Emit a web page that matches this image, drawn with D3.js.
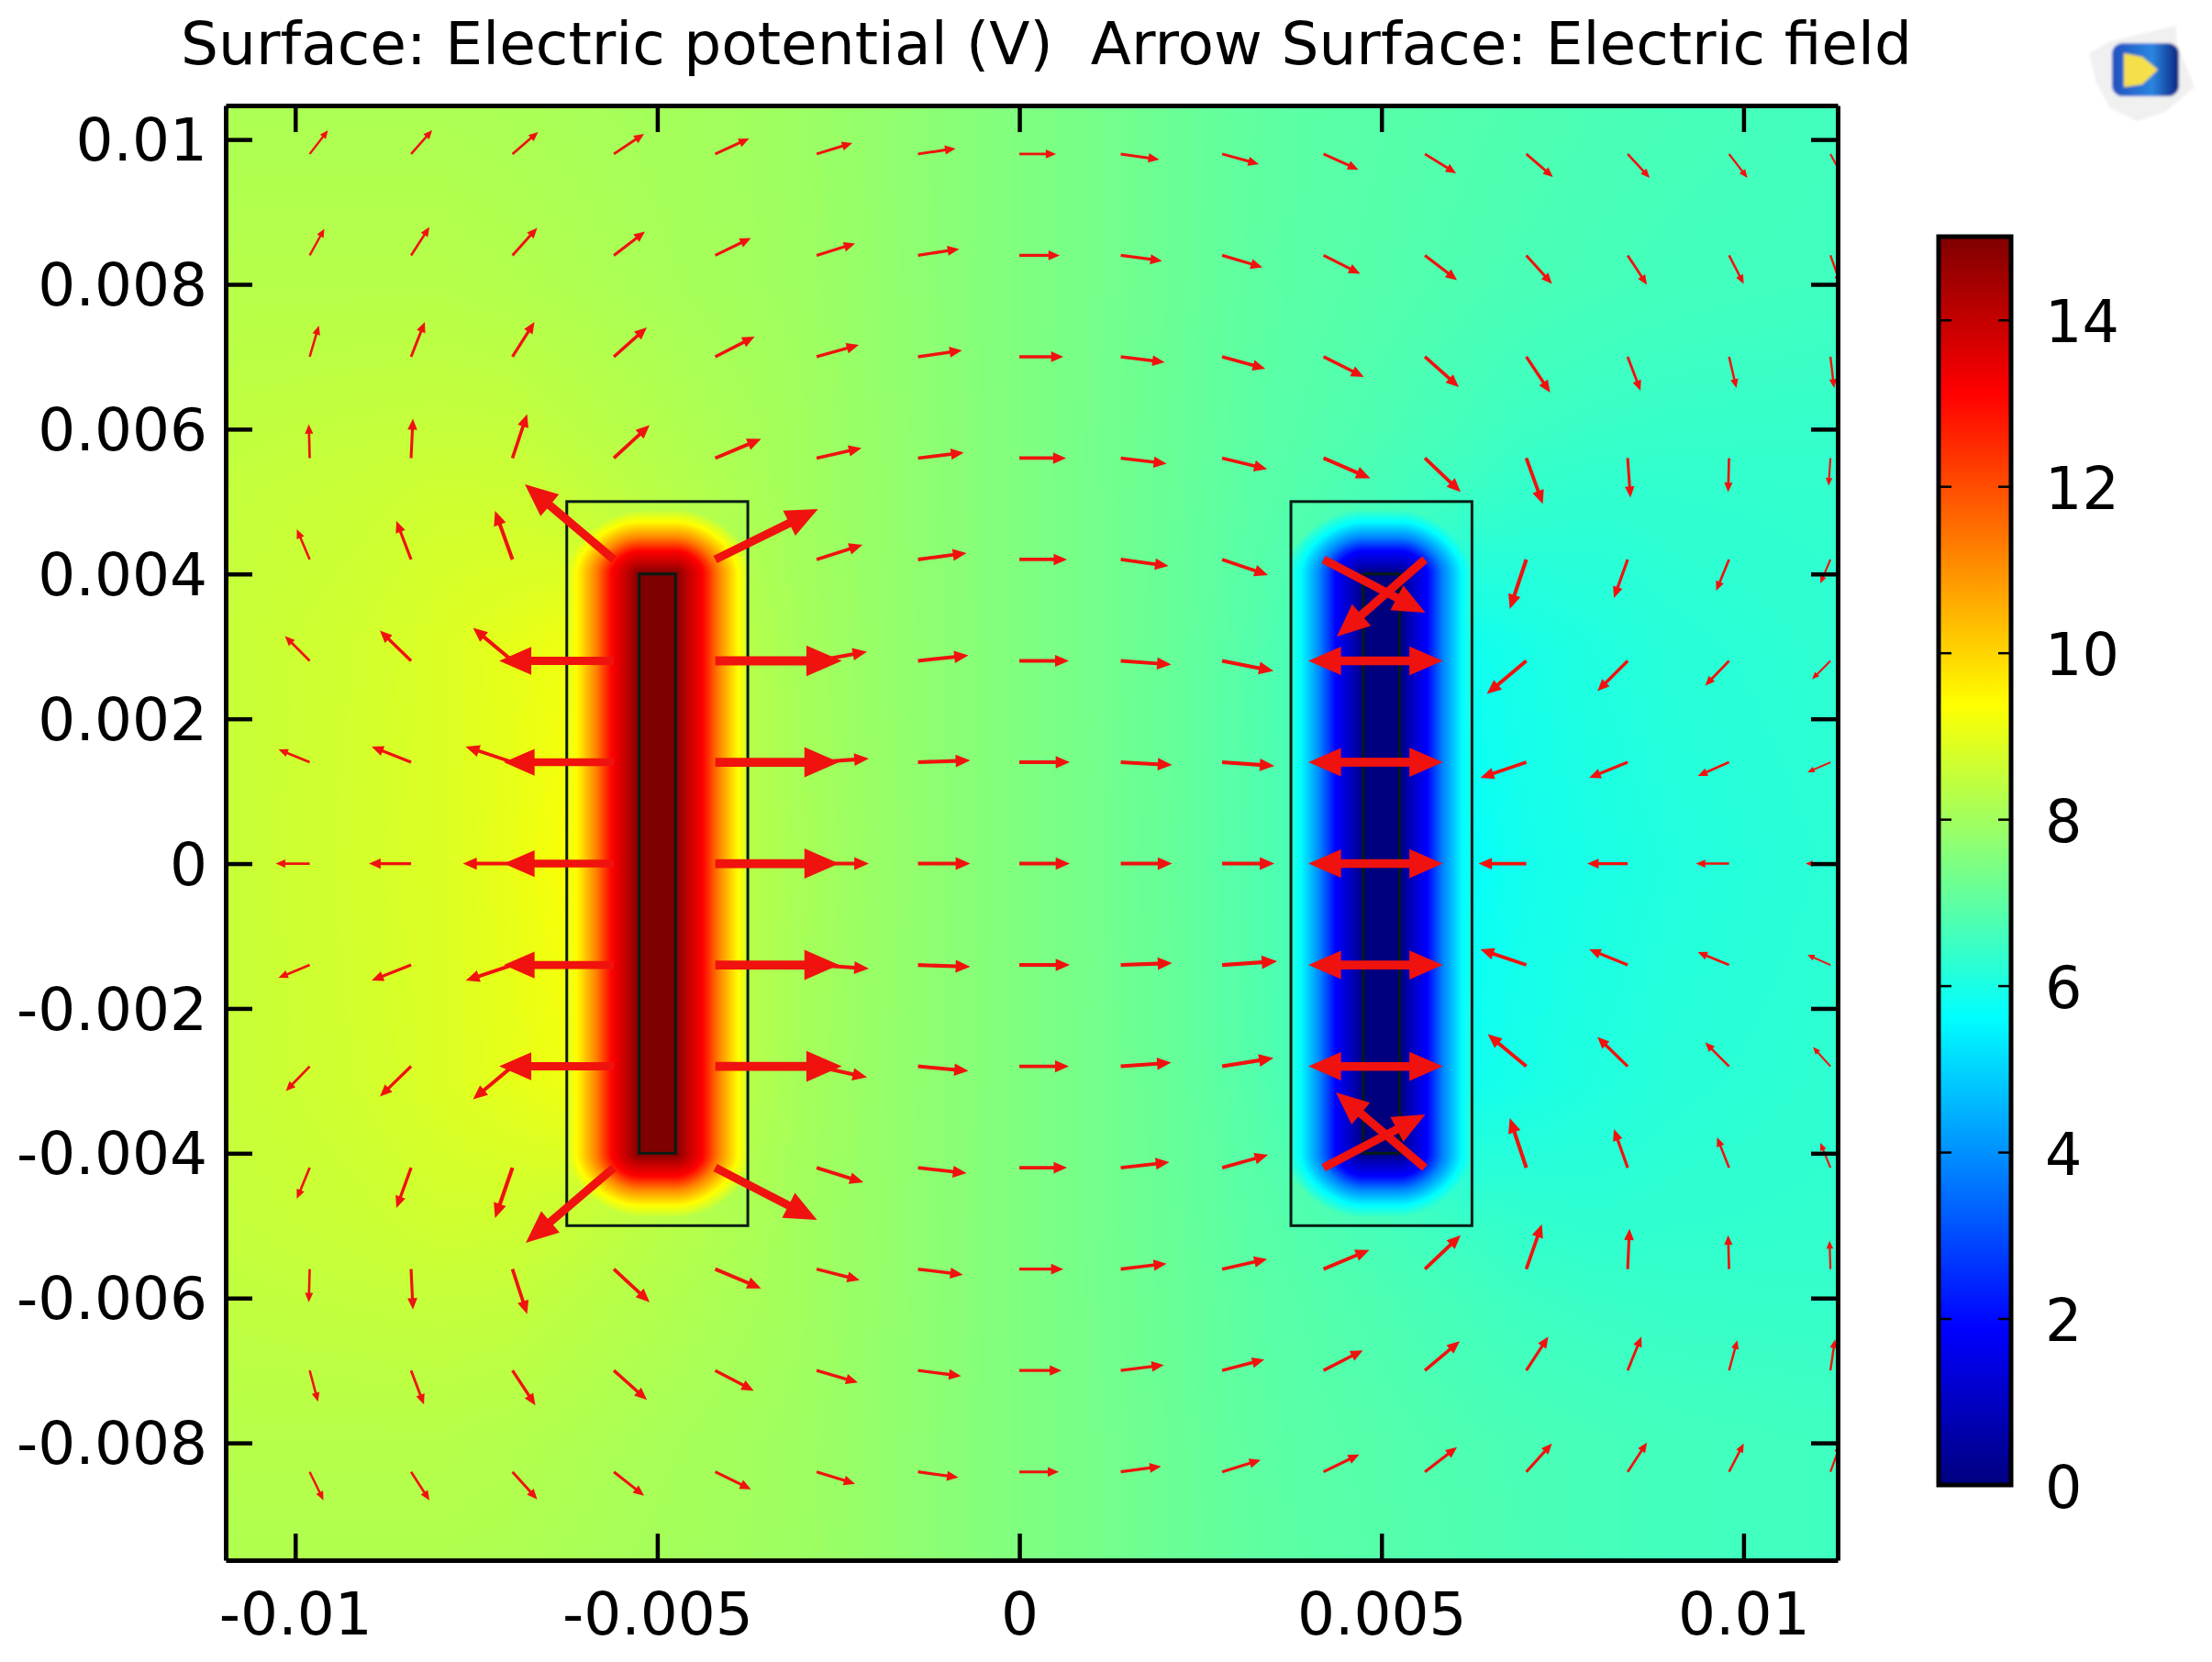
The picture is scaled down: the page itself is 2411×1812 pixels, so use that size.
<!DOCTYPE html>
<html>
<head>
<meta charset="utf-8">
<title>Electric potential</title>
<script src="https://cdn.jsdelivr.net/npm/d3@7"></script>
<style>
  body { margin: 0; background: #fff; }
  svg { display: block; }
  text { font-family: "DejaVu Sans", sans-serif; fill: #000; }
</style>
</head>
<body>
<svg id="chart" width="2411" height="1812"></svg>

<script>
const titleText = "Surface: Electric potential (V)  Arrow Surface: Electric field"
const xTicks = [-0.01, -0.005, 0, 0.005, 0.01]
const yTicks = [-0.008, -0.006, -0.004, -0.002, 0, 0.002, 0.004, 0.006, 0.008, 0.01]
const colorTicks = [0, 2, 4, 6, 8, 10, 12, 14]

// jet colour table of the colour bar
const jetValues = [0, 1.875, 5.625, 9.375, 13.125, 15]
const jetColors = ["#00007f", "#0000ff", "#00ffff", "#ffff00", "#ff0000", "#7f0000"]

// geometry, metres: [x0, x1, y0, y1]
const leftBox = [-0.00625, -0.00375, -0.005, 0.005]
const rightBox = [0.00375, 0.00625, -0.005, 0.005]
const leftElectrode = [-0.00525, -0.00475, -0.004, 0.004]
const rightElectrode = [0.00475, 0.00525, -0.004, 0.004]

// potential (V), outside the electrodes
const potentialX = [-0.011, -0.009, -0.008, -0.007, -0.00625, -0.00375, -0.003, -0.002, -0.001, 0, 0.001, 0.002, 0.003, 0.00375, 0.00625, 0.007, 0.008, 0.009, 0.0113]
const potentialY = [0.0105, 0.008, 0.006, 0.005, 0.003, 0, -0.003, -0.005, -0.006, -0.008, -0.0097]
const potentialRows = [
  [8.15, 8.15, 8.15, 8.12, 8.1, 7.98, 7.92, 7.78, 7.64, 7.5, 7.35, 7.2, 7.05, 6.98, 6.82, 6.78, 6.72, 6.68, 6.6],
  [8.3, 8.3, 8.3, 8.25, 8.2, 8.0, 7.95, 7.8, 7.65, 7.5, 7.35, 7.2, 7.03, 6.95, 6.75, 6.7, 6.65, 6.6, 6.55],
  [8.45, 8.5, 8.52, 8.5, 8.4, 8.1, 8.0, 7.82, 7.66, 7.5, 7.34, 7.18, 7.0, 6.9, 6.6, 6.5, 6.45, 6.42, 6.4],
  [8.5, 8.6, 8.68, 8.65, 8.55, 8.15, 8.0, 7.83, 7.66, 7.5, 7.33, 7.16, 6.98, 6.85, 6.45, 6.35, 6.3, 6.32, 6.35],
  [8.55, 8.72, 8.85, 9.0, 9.15, 8.3, 8.05, 7.85, 7.67, 7.5, 7.33, 7.15, 6.92, 6.7, 5.85, 5.98, 6.1, 6.2, 6.3],
  [8.55, 8.75, 8.85, 9.05, 9.3, 8.3, 8.1, 7.87, 7.68, 7.5, 7.32, 7.13, 6.9, 6.7, 5.7, 5.9, 6.0, 6.1, 6.25],
  [8.55, 8.72, 8.85, 9.0, 9.15, 8.3, 8.05, 7.85, 7.67, 7.5, 7.33, 7.15, 6.92, 6.7, 5.85, 5.98, 6.1, 6.2, 6.3],
  [8.5, 8.6, 8.68, 8.65, 8.55, 8.15, 8.0, 7.83, 7.66, 7.5, 7.33, 7.16, 6.98, 6.85, 6.45, 6.35, 6.3, 6.32, 6.35],
  [8.45, 8.5, 8.52, 8.5, 8.4, 8.1, 8.0, 7.82, 7.66, 7.5, 7.34, 7.18, 7.0, 6.9, 6.6, 6.5, 6.45, 6.42, 6.4],
  [8.3, 8.3, 8.3, 8.25, 8.2, 8.0, 7.95, 7.8, 7.65, 7.5, 7.35, 7.2, 7.03, 6.95, 6.75, 6.7, 6.65, 6.6, 6.55],
  [8.2, 8.2, 8.2, 8.18, 8.12, 7.98, 7.93, 7.8, 7.65, 7.5, 7.35, 7.2, 7.05, 6.97, 6.78, 6.72, 6.65, 6.6, 6.55]
]

// potential against distance from the electrode, read across the boxes
const wellDistance = [0, 0.00015, 0.00032, 0.0005, 0.00072, 0.00084, 0.001]
const leftWell = [15, 14, 13.1, 11.2, 9.4, 8.7, 7.5]
const rightWell = [0, 1, 1.9, 3.8, 5.6, 6.3, 7.5]

// arrow tails, metres
const arrowX = [-0.0098, -0.0084, -0.007, -0.0056, -0.0042, -0.0028, -0.0014, 0, 0.0014, 0.0028, 0.0042, 0.0056, 0.007, 0.0084, 0.0098, 0.0112]
const arrowY = [0.0098, 0.0084, 0.007, 0.0056, 0.0042, 0.0028, 0.0014, 0, -0.0014, -0.0028, -0.0042, -0.0056, -0.007, -0.0084]

// arrow components, arbitrary units, one row per arrowY
const fieldX = [
  [20, 23, 28, 33, 37, 39, 41, 40, 42, 40, 38, 34, 29, 24, 20, 14],
  [16, 20, 27, 34, 39, 42, 45, 44, 45, 44, 40, 35, 28, 21, 16, 11],
  [10, 15, 24, 36, 43, 46, 48, 48, 48, 47, 44, 37, 26, 14, 8, 4],
  [-1, 2, 16, 39, 50, 49, 50, 51, 50, 49, 51, 39, 18, 3, -1, -2],
  [-14, -16, -19, -97, 112, 50, 53, 52, 52, 50, 111, -96, -18, -15, -14, -11],
  [-27, -34, -43, -125, 138, 55, 55, 54, 55, 56, 130, -127, -43, -33, -26, -20],
  [-34, -43, -51, -120, 135, 57, 57, 55, 56, 57, 130, -127, -50, -42, -34, -25],
  [-37, -46, -54, -120, 135, 57, 57, 55, 56, 57, 130, -127, -52, -44, -36, -27],
  [-34, -43, -51, -120, 135, 57, 57, 55, 56, 60, 130, -127, -50, -42, -34, -25],
  [-26, -34, -43, -125, 138, 55, 55, 54, 55, 56, 130, -127, -42, -33, -26, -19],
  [-14, -16, -19, -96, 111, 51, 53, 52, 53, 50, 111, -97, -18, -15, -13, -11],
  [-1, 2, 16, 39, 50, 47, 49, 48, 50, 49, 50, 39, 17, 2, -1, -1],
  [9, 14, 25, 36, 42, 45, 47, 46, 47, 46, 43, 38, 24, 15, 9, 5],
  [15, 20, 27, 33, 39, 42, 44, 43, 44, 42, 39, 35, 28, 21, 16, 11]
]
const fieldY = [
  [26, 26, 24, 22, 17, 12, 6, 0, -6, -11, -17, -21, -25, -26, -26, -26],
  [29, 31, 30, 26, 19, 13, 7, 0, -6, -13, -20, -27, -31, -32, -31, -31],
  [34, 38, 38, 32, 22, 13, 7, 0, -6, -13, -22, -33, -39, -37, -34, -34],
  [37, 43, 48, 36, 21, 11, 6, 0, -6, -12, -22, -37, -50, -43, -37, -30],
  [33, 42, 53, 82, 55, 16, 7, 0, -7, -17, -58, -84, -54, -42, -34, -26],
  [27, 33, 36, 0, 0, 10, 6, 0, -4, -11, 0, 0, -36, -33, -27, -20],
  [14, 17, 17, 0, 0, 4, 2, 0, -3, -4, 0, 0, -17, -17, -15, -11],
  [0, 0, 0, 0, 0, 0, 0, 0, 0, 0, 0, 0, 0, 0, 0, 0],
  [-14, -17, -17, 0, 0, -4, -2, 0, 2, 4, 0, 0, 17, 17, 14, 11],
  [-27, -33, -36, 0, 0, -12, -5, 0, 4, 9, 0, 0, 35, 32, 26, 21],
  [-34, -44, -55, -82, -57, -16, -6, 0, 6, 14, 58, 82, 54, 42, 33, 27],
  [-36, -44, -49, -36, -21, -12, -6, 0, 6, 11, 21, 37, 49, 44, 37, 31],
  [-34, -37, -38, -32, -22, -13, -6, 0, 6, 12, 22, 32, 37, 37, 33, 34],
  [-31, -31, -30, -26, -19, -13, -6, 0, 6, 13, 19, 27, 31, 32, 31, 30]
]

const plot = { left: 246, right: 2003, top: 115, bottom: 1701 }
const bar = { left: 2113, right: 2192, top: 258, bottom: 1619 }

const x = d3.scaleLinear().domain([-0.01096, 0.0113]).range([plot.left, plot.right])
const y = d3.scaleLinear().domain([-0.00962, 0.01047]).range([plot.bottom, plot.top])
const colorBarY = d3.scaleLinear().domain([0, 15]).range([bar.bottom, bar.top])
const jet = d3.scaleLinear().domain(jetValues).range(jetColors).clamp(true)
const arrowLength = d3.scaleLinear().domain([0, 100]).range([0, 100])

const svg = d3.select("#chart")

svg.append("text")
  .attr("x", 197)
  .attr("y", 70)
  .attr("font-size", 64.6)
  .style("white-space", "pre")
  .text(titleText)

// surface, painted into a canvas and placed as an image
const col = d3.scaleLinear().domain(potentialX).range(d3.range(potentialX.length)).clamp(true)
const row = d3.scaleLinear().domain(potentialY).range(d3.range(potentialY.length)).clamp(true)
const leftProfile = d3.scaleLinear().domain(wellDistance).range(leftWell).clamp(true)
const rightProfile = d3.scaleLinear().domain(wellDistance).range(rightWell).clamp(true)

function tableValue(px, py) {
  const c = col(px), r = row(py)
  const c0 = Math.min(Math.floor(c), potentialX.length - 2), r0 = Math.min(Math.floor(r), potentialY.length - 2)
  const tc = c - c0, tr = r - r0
  const a = potentialRows[r0][c0] * (1 - tc) + potentialRows[r0][c0 + 1] * tc
  const b = potentialRows[r0 + 1][c0] * (1 - tc) + potentialRows[r0 + 1][c0 + 1] * tc
  return a * (1 - tr) + b * tr
}

function inside(rect, px, py) {
  return px >= rect[0] && px <= rect[1] && py >= rect[2] && py <= rect[3]
}

// distance from an electrode; the contours run wider sideways than over the ends
function electrodeDistance(rect, px, py) {
  const dx = Math.max(rect[0] - px, 0, px - rect[1]) / 1.2
  const dy = Math.max(rect[2] - py, 0, py - rect[3])
  return Math.pow(Math.pow(dx, 1.8) + Math.pow(dy, 1.8), 1 / 1.8)
}

function potentialAt(px, py) {
  const v = tableValue(px, py)
  if (inside(leftBox, px, py)) return Math.max(v, leftProfile(electrodeDistance(leftElectrode, px, py)))
  if (inside(rightBox, px, py)) return Math.min(v, rightProfile(electrodeDistance(rightElectrode, px, py)))
  return v
}

const plotW = plot.right - plot.left
const plotH = plot.bottom - plot.top
const canvas = document.createElement("canvas")
canvas.width = plotW
canvas.height = plotH
const ctx = canvas.getContext("2d")
const img = ctx.createImageData(plotW, plotH)

const lut = d3.range(1501).map(i => d3.rgb(jet(i / 100)))
for (let j = 0; j < plotH; j++) {
  const py = y.invert(plot.top + j + 0.5)
  for (let i = 0; i < plotW; i++) {
    const px = x.invert(plot.left + i + 0.5)
    const c = lut[Math.round(potentialAt(px, py) * 100)]
    const k = (j * plotW + i) * 4
    img.data[k] = c.r
    img.data[k + 1] = c.g
    img.data[k + 2] = c.b
    img.data[k + 3] = 255
  }
}
ctx.putImageData(img, 0, 0)

svg.append("image")
  .attr("x", plot.left)
  .attr("y", plot.top)
  .attr("width", plotW)
  .attr("height", plotH)
  .attr("href", canvas.toDataURL())

// boxes and electrodes
svg.append("g")
  .selectAll("rect")
  .data([leftBox, rightBox, leftElectrode, rightElectrode])
  .join("rect")
  .attr("x", d => x(d[0]))
  .attr("y", d => y(d[3]))
  .attr("width", d => x(d[1]) - x(d[0]))
  .attr("height", d => y(d[2]) - y(d[3]))
  .attr("fill", "none")
  .attr("stroke", "#061c14")
  .attr("stroke-width", 3)

// arrows
const defs = svg.append("defs")
defs.append("clipPath").attr("id", "plot-clip")
  .append("rect")
  .attr("x", plot.left)
  .attr("y", plot.top)
  .attr("width", plotW)
  .attr("height", plotH)

const arrows = []
arrowY.forEach((ay, r) => {
  arrowX.forEach((ax, c) => {
    arrows.push({ ax: ax, ay: ay, ex: fieldX[r][c], ey: fieldY[r][c] })
  })
})

function arrowPath(d) {
  const x0 = x(d.ax), y0 = y(d.ay)
  const dx = arrowLength(d.ex), dy = -arrowLength(d.ey)
  const len = Math.hypot(dx, dy)
  const ux = dx / len, uy = dy / len
  const nx = -uy, ny = ux
  const shaft = 0.036 * len, head = 0.122 * len, back = 0.72 * len
  const p = d3.path()
  p.moveTo(x0 + nx * shaft, y0 + ny * shaft)
  p.lineTo(x0 + ux * back + nx * shaft, y0 + uy * back + ny * shaft)
  p.lineTo(x0 + ux * back + nx * head, y0 + uy * back + ny * head)
  p.lineTo(x0 + dx, y0 + dy)
  p.lineTo(x0 + ux * back - nx * head, y0 + uy * back - ny * head)
  p.lineTo(x0 + ux * back - nx * shaft, y0 + uy * back - ny * shaft)
  p.lineTo(x0 - nx * shaft, y0 - ny * shaft)
  p.closePath()
  return p.toString()
}

svg.append("g")
  .attr("clip-path", "url(#plot-clip)")
  .selectAll("path")
  .data(arrows)
  .join("path")
  .attr("d", arrowPath)
  .attr("fill", "#f0120e")

// axes on all four sides
const label = d => String(d)

const axisBottom = svg.append("g")
  .attr("transform", `translate(0,${plot.bottom})`)
  .call(d3.axisBottom(x).tickValues(xTicks).tickFormat(label).tickSizeInner(-29).tickSizeOuter(0).tickPadding(35))
const axisLeft = svg.append("g")
  .attr("transform", `translate(${plot.left},0)`)
  .call(d3.axisLeft(y).tickValues(yTicks).tickFormat(label).tickSizeInner(-29).tickSizeOuter(0).tickPadding(20))
const axisTop = svg.append("g")
  .attr("transform", `translate(0,${plot.top})`)
  .call(d3.axisTop(x).tickValues(xTicks).tickFormat("").tickSizeInner(-29).tickSizeOuter(0))
const axisRight = svg.append("g")
  .attr("transform", `translate(${plot.right},0)`)
  .call(d3.axisRight(y).tickValues(yTicks).tickFormat("").tickSizeInner(-29).tickSizeOuter(0))

const allAxes = [axisBottom, axisLeft, axisTop, axisRight]
allAxes.forEach(a => {
  a.selectAll("path").attr("stroke-width", 5).attr("stroke", "#000")
  a.selectAll("line").attr("stroke-width", 4.5).attr("stroke", "#000")
  a.selectAll("text").attr("font-size", 64.5).attr("font-family", "DejaVu Sans").attr("fill", "#000")
})
axisLeft.selectAll("text").attr("dy", "0.35em")

// colour bar
const gradient = defs.append("linearGradient")
  .attr("id", "jet-bar")
  .attr("x1", 0).attr("x2", 0).attr("y1", 1).attr("y2", 0)
gradient.selectAll("stop")
  .data(jetValues)
  .join("stop")
  .attr("offset", d => d / 15)
  .attr("stop-color", d => jet(d))

svg.append("rect")
  .attr("x", bar.left)
  .attr("y", bar.top)
  .attr("width", bar.right - bar.left)
  .attr("height", bar.bottom - bar.top)
  .attr("fill", "url(#jet-bar)")
  .attr("stroke", "#000")
  .attr("stroke-width", 5)

const barRight = svg.append("g")
  .attr("transform", `translate(${bar.right},0)`)
  .call(d3.axisRight(colorBarY).tickValues(colorTicks).tickFormat(label).tickSizeInner(-14).tickSizeOuter(0).tickPadding(37))
const barLeft = svg.append("g")
  .attr("transform", `translate(${bar.left},0)`)
  .call(d3.axisLeft(colorBarY).tickValues(colorTicks).tickFormat("").tickSizeInner(-14).tickSizeOuter(0))

;[barRight, barLeft].forEach(a => {
  a.select("path").remove()
  a.selectAll("line").attr("stroke-width", 2.5).attr("stroke", "#000")
  a.selectAll("text").attr("font-size", 63.5).attr("font-family", "DejaVu Sans").attr("fill", "#000").attr("dy", "0.38em")
})

// small logo in the corner
const logoGradient = defs.append("linearGradient")
  .attr("id", "logo-blue")
  .attr("x1", 0).attr("x2", 1).attr("y1", 0).attr("y2", 0)
logoGradient.append("stop").attr("offset", 0).attr("stop-color", "#1f50c0")
logoGradient.append("stop").attr("offset", 0.6).attr("stop-color", "#2a86e0")
logoGradient.append("stop").attr("offset", 1).attr("stop-color", "#0b2480")

defs.append("filter").attr("id", "logo-soft")
  .append("feGaussianBlur").attr("stdDeviation", 1.8)

const logo = svg.append("g").attr("filter", "url(#logo-soft)")
logo.append("path")
  .attr("d", "M2277 58 L2300 45 L2372 28 L2372 45 L2392 95 L2360 122 L2330 132 L2300 118 L2285 90 Z")
  .attr("fill", "#f0f0f0")
logo.append("rect")
  .attr("x", 2302).attr("y", 47).attr("width", 73).attr("height", 58).attr("rx", 12)
  .attr("fill", "url(#logo-blue)")
logo.append("path")
  .attr("d", "M2315 58 L2335 62 L2352 76 L2335 92 L2315 95 Z")
  .attr("fill", "#f6e04a")
</script>
</body>
</html>
